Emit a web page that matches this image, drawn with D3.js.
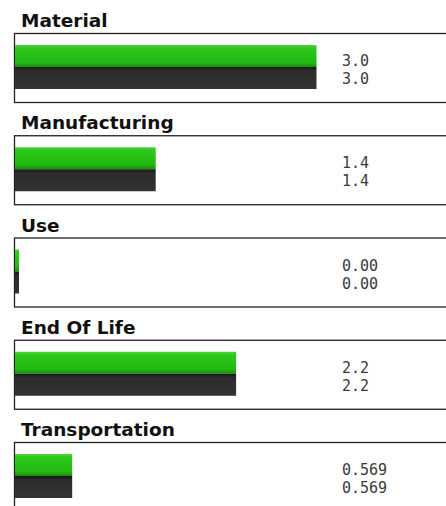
<!DOCTYPE html>
<html>
<head>
<meta charset="utf-8">
<script src="https://cdn.jsdelivr.net/npm/d3@7"></script>
<style>
  body { margin: 0; background: #fff; }
  svg { display: block; }
</style>
</head>
<body>
<svg id="chart"></svg>
<script>
        // 画布尺寸
        const width = 446;
        const height = 506;

        // 数据
        const categories = ["Material", "Manufacturing", "Use", "End Of Life", "Transportation"];
        const greenValues = [3.0, 1.4, 0.00, 2.2, 0.569];
        const darkValues = [3.0, 1.4, 0.00, 2.2, 0.569];
        const greenLabels = ["3.0", "1.4", "0.00", "2.2", "0.569"];
        const darkLabels = ["3.0", "1.4", "0.00", "2.2", "0.569"];

        const boxLeft = 14;
        const boxH = 69;
        const barH = 22;
        const minBar = 4;

        const svg = d3.select("#chart")
            .attr("width", width)
            .attr("height", height);

        // 渐变
        const defs = svg.append("defs");
        const gGreen = defs.append("linearGradient").attr("id", "gGreen")
            .attr("x1", 0).attr("y1", 0).attr("x2", 0).attr("y2", 1);
        gGreen.append("stop").attr("offset", "0%").attr("stop-color", "#4fd43c");
        gGreen.append("stop").attr("offset", "15%").attr("stop-color", "#2cc81a");
        gGreen.append("stop").attr("offset", "80%").attr("stop-color", "#22b912");
        gGreen.append("stop").attr("offset", "100%").attr("stop-color", "#178a0b");

        const gDark = defs.append("linearGradient").attr("id", "gDark")
            .attr("x1", 0).attr("y1", 0).attr("x2", 0).attr("y2", 1);
        gDark.append("stop").attr("offset", "0%").attr("stop-color", "#161616");
        gDark.append("stop").attr("offset", "18%").attr("stop-color", "#2c2c2c");
        gDark.append("stop").attr("offset", "100%").attr("stop-color", "#333333");

        // 比例尺
        const panelScale = d3.scaleLinear()
            .domain([0, 1])
            .range([33, 135.25]);

        const x = d3.scaleLinear()
            .domain([0, 3.0])
            .range([boxLeft + 1, 316.5]);

        const barW = v => Math.max(x(v) - x(0), minBar);

        const panels = svg.selectAll(".panel")
            .data(categories)
            .enter()
            .append("g")
            .attr("class", "panel")
            .attr("transform", (d, i) => `translate(0,${panelScale(i)})`);

        // 标题
        panels.append("text")
            .attr("x", boxLeft + 7)
            .attr("y", -6)
            .style("font-family", "'DejaVu Sans', sans-serif")
            .style("font-weight", "bold")
            .style("font-size", "18.5px")
            .style("fill", "#111")
            .text(d => d);

        // 边框
        panels.append("rect")
            .attr("x", boxLeft + 0.5)
            .attr("y", 0.5)
            .attr("width", width + 20)
            .attr("height", boxH)
            .attr("fill", "#fff")
            .attr("stroke", "#222")
            .attr("stroke-width", 1.3);

        // 绿色条
        panels.append("rect")
            .attr("x", x(0))
            .attr("y", 12)
            .attr("width", (d, i) => barW(greenValues[i]))
            .attr("height", barH)
            .attr("fill", "url(#gGreen)");

        // 深色条
        panels.append("rect")
            .attr("x", x(0))
            .attr("y", 12 + barH)
            .attr("width", (d, i) => barW(darkValues[i]))
            .attr("height", barH)
            .attr("fill", "url(#gDark)");

        // 数值标签
        panels.append("text")
            .attr("x", 342)
            .attr("y", 33)
            .style("font-family", "'DejaVu Sans Mono', monospace")
            .style("font-size", "15px")
            .style("fill", "#3a3a3a")
            .text((d, i) => greenLabels[i]);

        panels.append("text")
            .attr("x", 342)
            .attr("y", 51)
            .style("font-family", "'DejaVu Sans Mono', monospace")
            .style("font-size", "15px")
            .style("fill", "#3a3a3a")
            .text((d, i) => darkLabels[i]);
</script>
</body>
</html>
